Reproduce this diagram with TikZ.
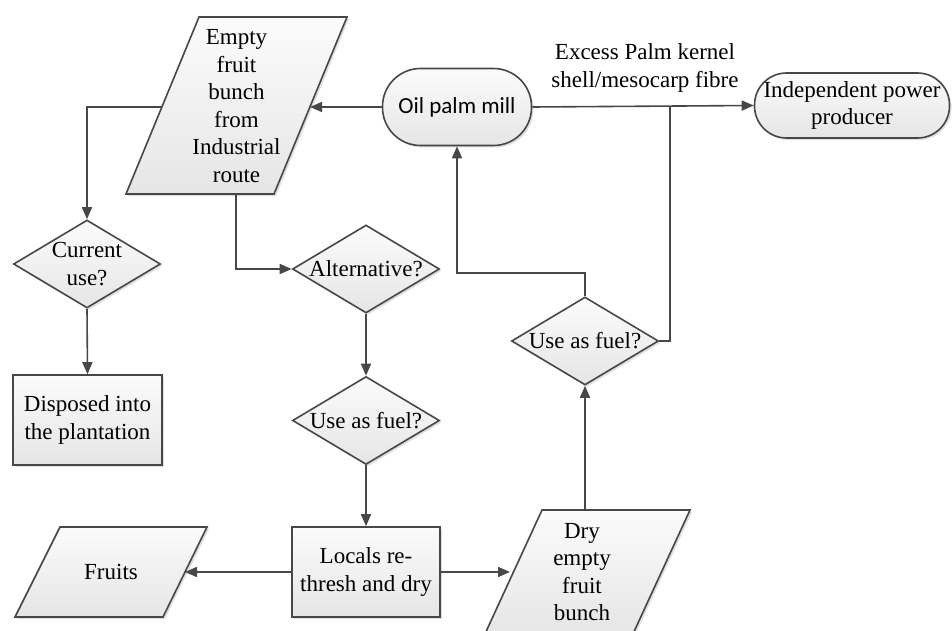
\documentclass[tikz,border=0pt]{standalone}
\usepackage{fontspec}
\setmainfont{Liberation Serif}
\newfontfamily\tms{Liberation Serif}
\newfontfamily\carl{Carlito}
\usetikzlibrary{shapes.geometric,arrows.meta,shadows}
\begin{document}
\begin{tikzpicture}[x=1pt,y=-1pt,
  every node/.style={font=\tms\fontsize{23}{27.5}\selectfont},
  strk/.style={draw=black!72, line width=1.6pt},
  boxfill/.style={top color=gray!3, bottom color=gray!20, drop shadow={opacity=0.25,shadow xshift=2pt,shadow yshift=-2pt}},
  proc/.style={strk,boxfill,rectangle,inner sep=0pt},
  dec/.style={strk,boxfill,diamond,aspect=1.67,inner sep=0pt,minimum width=147pt,minimum height=88pt},
  term/.style={strk,boxfill,rectangle,inner sep=0pt},
  arr/.style={-{Triangle[length=12pt,width=10pt]}, draw=black!72, line width=1.6pt},
  ln/.style={draw=black!72, line width=1.6pt}
]
\useasboundingbox (0,0) rectangle (952,631);
\clip (0,0) rectangle (952,631);

% parallelograms
\path[strk,boxfill] (199,17) -- (347,17) -- (274,194) -- (126,194) -- cycle;
\node[align=center] (efb) at (236.5,106) {Empty\\fruit\\bunch\\from\\Industrial\\route};
\coordinate (efbR) at (310,107);
\coordinate (efbL) at (162,107);
\coordinate (efbB) at (236,194);

\path[strk,boxfill] (60,527) -- (207,527) -- (163,617) -- (15,617) -- cycle;
\node (fruits) at (111,572) {Fruits};
\coordinate (fruR) at (185,572);

\path[strk,boxfill] (542,510) -- (690,510) -- (632,636) -- (484,636) -- cycle;
\node[align=center] (dry) at (582,572) {Dry\\empty\\fruit\\bunch};
\coordinate (dryL) at (510,572);
\coordinate (dryT) at (585,510);

% terminals
\node[term, minimum width=149pt, minimum height=77pt, rounded corners=38pt] (mill) at (457,107) {\carl Oil palm mill};
\node[term, minimum width=195pt, minimum height=65pt, rounded corners=32pt, align=center] (ipp) at (852,105.5) {Independent power\\producer};
\node[align=center] (lbl) at (645,68) {Excess Palm kernel\\shell/mesocarp fibre};

% decisions and processes
\node[dec, align=center] (cur) at (87,264) {Current\\use?};
\node[proc, minimum width=149pt, minimum height=90pt, align=center] (disp) at (87.5,420) {Disposed into\\the plantation};
\node[dec] (alt) at (366,269) {Alternative?};
\node[dec] (fuel1) at (366,420.5) {Use as fuel?};
\node[proc, minimum width=148pt, minimum height=90pt, align=center] (loc) at (366,572) {Locals re-\\thresh and dry};
\node[dec] (fuel2) at (585,341) {Use as fuel?};

\coordinate (k) at (585,273);
\coordinate (j) at (670,107);

% connectors
\draw[arr] (mill.west) -- (efbR);
\draw[arr] (efbL) -| (cur.north);
\draw[arr] (cur.south) -- (disp.north);
\draw[arr] (efbB) |- (alt.west);
\draw[arr] (alt.south) -- (fuel1.north);
\draw[arr] (fuel1.south) -- (loc.north);
\draw[arr] (loc.west) -- (fruR);
\draw[arr] (loc.east) -- (dryL);
\draw[arr] (dryT) -- (fuel2.south);
\draw[arr] (fuel2.north) -- (k) -| (mill.south);
\draw[arr] (mill.east) -- (ipp.west);
\draw[ln] (fuel2.east) -| (j);
\end{tikzpicture}
\end{document}
